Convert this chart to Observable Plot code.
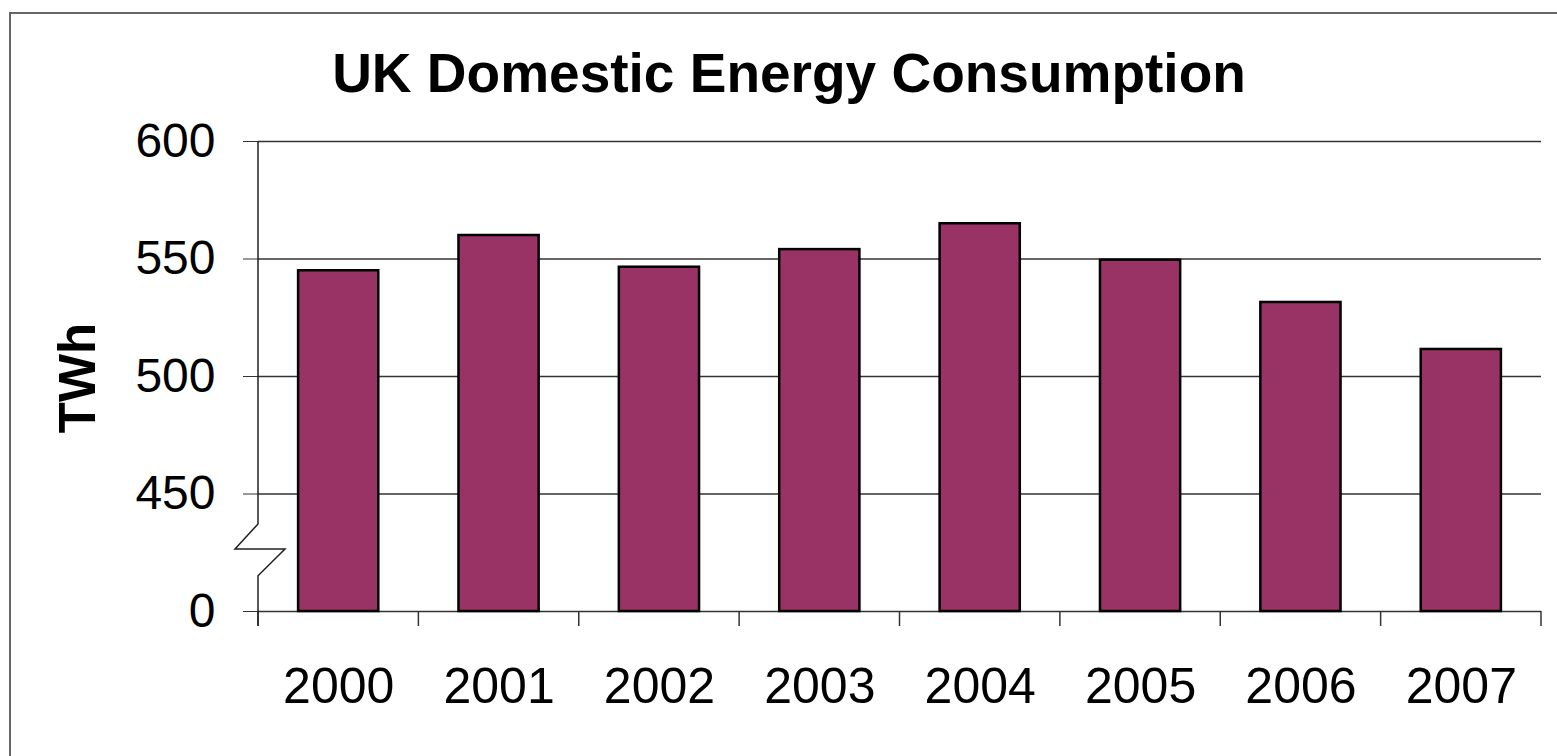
<!DOCTYPE html>
<html><head><meta charset="utf-8">
<script src="https://cdn.jsdelivr.net/npm/d3@7"></script>
<script src="https://cdn.jsdelivr.net/npm/@observablehq/plot@0.6"></script>
<style>
html,body{margin:0;padding:0;background:#fff;overflow:hidden;width:1557px;height:756px;}
#wrap{position:relative;width:1557px;height:756px;font-family:"Liberation Sans",Arial,sans-serif;color:#000;}
#title{height:115px;position:relative;}
#title span{position:absolute;left:0;width:1578px;top:46px;text-align:center;font-size:55px;font-weight:bold;line-height:55px;}
#ylab{position:absolute;left:77px;top:378px;transform:translate(-50%,-50%) rotate(-90deg);font-size:51px;font-weight:bold;line-height:51px;white-space:nowrap;}
#border{position:absolute;left:9px;top:12px;width:1700px;height:900px;border:2px solid #666;pointer-events:none;}
#chart svg{display:block;}
</style></head>
<body>
<div id="wrap">
  <div id="title"><span>UK Domestic Energy Consumption</span></div>
  <div id="chart"></div>
  <div id="ylab">TWh</div>
  <div id="border"></div>
</div>
<script>
// Data
const years = ["2000", "2001", "2002", "2003", "2004", "2005", "2006", "2007"];
const twh = [545, 560, 546.5, 554, 565, 549.5, 531.5, 511.5];
const yTicks = [400, 450, 500, 550, 600];
const yTickLabels = ["0", "450", "500", "550", "600"];
const baseline = 400;           // shown as "0" on the broken axis
const breakValues = [437, 426.4, 415];  // top, middle, bottom of the axis break

const data = years.map((year, i) => ({year, value: twh[i]}));
const labelOf = new Map(yTicks.map((t, i) => [t, yTickLabels[i]]));

const plot = Plot.plot({
  width: 1557,
  height: 641,
  marginTop: 26,
  marginBottom: 145,
  marginLeft: 258,
  marginRight: 16,
  style: {fontFamily: "'Liberation Sans', Arial, sans-serif", fontSize: "50px", color: "#000", background: "#fff"},
  x: {domain: years, paddingInner: 0.5, paddingOuter: 0.25, round: false, tickSize: 0, tickPadding: 56, label: null},
  y: {domain: [400, 600], ticks: yTicks, tickFormat: d => labelOf.get(d), tickSize: 15, tickPadding: 28, label: null},
  marks: [
    Plot.ruleY(yTicks, {stroke: "#333", strokeWidth: 1.3}),
    Plot.barY(data, {x: "year", y1: baseline, y2: "value", fill: "#993366", stroke: "#000", strokeWidth: 2.5})
  ]
});
document.getElementById("chart").appendChild(plot);

const svg = d3.select(plot.tagName.toLowerCase() === "svg" ? plot : plot.querySelector("svg"));
svg.selectAll('[aria-label^="y-axis"] text').style("font-size", "48px");
svg.selectAll('[aria-label^="y-axis"] line, [aria-label^="y-axis"] path').attr("stroke", "#333");

const xs = plot.scale("x");
const ys = plot.scale("y");
const step = xs.step, bw = xs.bandwidth, gap = step - bw;
const x0 = xs.apply(years[0]) - gap / 2;
const yBase = ys.apply(baseline);

// category-boundary ticks along the bottom axis
const bounds = years.map(y => xs.apply(y) - gap / 2).concat([xs.apply(years[years.length - 1]) + bw + gap / 2]);
svg.append("g").selectAll("line").data(bounds).join("line")
  .attr("x1", d => d).attr("x2", d => d)
  .attr("y1", yBase).attr("y2", yBase + 15)
  .attr("stroke", "#333").attr("stroke-width", 1.5);

// broken vertical axis line
const p = d3.path();
p.moveTo(x0, ys.apply(600));
p.lineTo(x0, ys.apply(breakValues[0]));
p.lineTo(x0 - 23, ys.apply(breakValues[1]));
p.lineTo(x0 + 27, ys.apply(breakValues[1]));
p.lineTo(x0, ys.apply(breakValues[2]));
p.lineTo(x0, yBase + 15);
svg.append("path").attr("d", p.toString()).attr("fill", "none").attr("stroke", "#222").attr("stroke-width", 1.5);
</script>
</body></html>
